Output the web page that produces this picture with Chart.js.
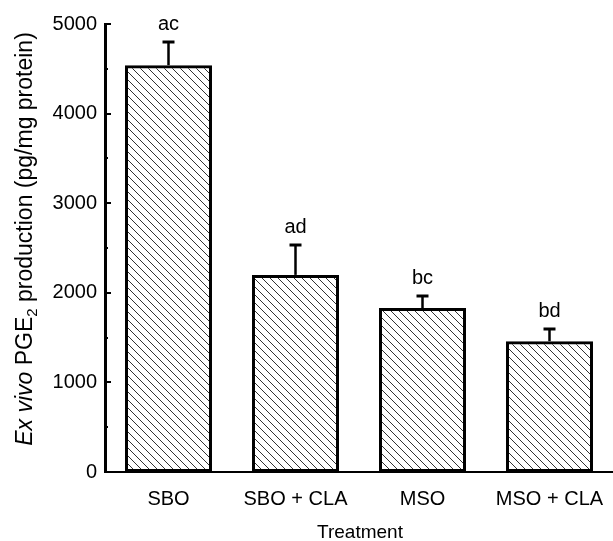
<!DOCTYPE html>
<html>
<head>
<meta charset="utf-8">
<script src="https://cdn.jsdelivr.net/npm/chart.js@4.4.1/dist/chart.umd.min.js"></script>
<style>
  html, body { margin: 0; padding: 0; background: #fff; }
  #wrap { width: 613px; height: 541px; }
</style>
</head>
<body>
<div id="wrap"><canvas id="bar-chart" width="613" height="541"></canvas></div>
<script>
// values
var treatments = ['SBO', 'SBO + CLA', 'MSO', 'MSO + CLA'];
var pge2 = [4540, 2200, 1830, 1460];
var pge2Sem = [260, 330, 130, 135];
var sigLetters = ['ac', 'ad', 'bc', 'bd'];
var yTicks = [0, 1000, 2000, 3000, 4000, 5000];
var yMinorTicks = [500, 1500, 2500, 3500, 4500];
var yTitleParts = ['Ex vivo', ' PGE', '2', ' production (pg/mg protein)'];
var xTitle = 'Treatment';

var FONT = '"Liberation Sans", Arial, Helvetica, sans-serif';

function makeHatch() {
    var c = document.createElement('canvas');
    c.width = 8;
    c.height = 8;
    var g = c.getContext('2d');
    g.strokeStyle = '#333';
    g.lineWidth = 1;
    g.beginPath();
    g.moveTo(-1, -1);
    g.lineTo(9, 9);
    g.stroke();
    return g.createPattern(c, 'repeat');
}

// inward ticks, error bars, letters and titles
var extras = {
    id: 'extras',
    afterDatasetsDraw: function(chart) {
        var ctx = chart.ctx;
        var y = chart.scales.y;
        var left = chart.chartArea.left;
        var meta = chart.getDatasetMeta(0);

        ctx.save();
        ctx.strokeStyle = '#000';
        ctx.fillStyle = '#000';
        ctx.lineWidth = 2;

        for (var i = 0; i < yTicks.length; i++) {
            var py = Math.round(y.getPixelForValue(yTicks[i]));
            ctx.beginPath();
            ctx.moveTo(left, py);
            ctx.lineTo(left + 6, py);
            ctx.stroke();
        }
        for (var i = 0; i < yMinorTicks.length; i++) {
            var py = Math.round(y.getPixelForValue(yMinorTicks[i]));
            ctx.fillRect(left + 1, py - 1, 2, 2);
        }

        ctx.font = '20px ' + FONT;
        ctx.textAlign = 'center';
        ctx.textBaseline = 'alphabetic';
        for (var i = 0; i < meta.data.length; i++) {
            var bar = meta.data[i];
            var top = Math.round(y.getPixelForValue(pge2[i] + pge2Sem[i]));
            ctx.lineWidth = 2.5;
            ctx.beginPath();
            ctx.moveTo(bar.x, bar.y);
            ctx.lineTo(bar.x, top);
            ctx.stroke();
            ctx.lineWidth = 3;
            ctx.beginPath();
            ctx.moveTo(bar.x - 6, top);
            ctx.lineTo(bar.x + 6, top);
            ctx.stroke();
            ctx.fillText(sigLetters[i], bar.x, top - 12);
        }

        // x title
        ctx.font = '19px ' + FONT;
        ctx.fillText(xTitle, (chart.chartArea.left + chart.chartArea.right) / 2 + 1, 538);

        // y title, mixed italic / subscript
        var fonts = ['italic 23px ' + FONT, '23px ' + FONT, '15px ' + FONT, '23px ' + FONT];
        var shift = [0, 0, 5, 0];
        var total = 0;
        var widths = [];
        for (var i = 0; i < yTitleParts.length; i++) {
            ctx.font = fonts[i];
            widths[i] = ctx.measureText(yTitleParts[i]).width;
            total += widths[i];
        }
        ctx.translate(32, 239);
        ctx.rotate(-Math.PI / 2);
        ctx.textAlign = 'left';
        var pos = -total / 2;
        for (var i = 0; i < yTitleParts.length; i++) {
            ctx.font = fonts[i];
            ctx.fillText(yTitleParts[i], pos, shift[i]);
            pos += widths[i];
        }
        ctx.restore();
    }
};

var ctx = document.getElementById('bar-chart');

var chart = new Chart(ctx, {
    type: 'bar',
    data: {
        labels: treatments,
        datasets: [
            {
                label: 'PGE2',
                data: pge2,
                backgroundColor: makeHatch(),
                borderColor: '#000',
                borderWidth: 3,
                borderSkipped: false,
                categoryPercentage: 1,
                barPercentage: 0.685
            }
        ]
    },
    options: {
        responsive: false,
        animation: false,
        devicePixelRatio: 1,
        layout: { padding: { top: 24, right: 0, left: 0, bottom: 0 } },
        plugins: {
            legend: { display: false },
            tooltip: { enabled: false }
        },
        scales: {
            x: {
                grid: { display: false },
                border: { display: true, color: '#000', width: 2 },
                ticks: {
                    color: '#000',
                    padding: 7,
                    font: { family: FONT, size: 20 }
                },
                afterFit: function(scale) { scale.height = 69; }
            },
            y: {
                min: 0,
                max: 5000,
                grid: { display: false, drawTicks: false },
                border: { display: true, color: '#000', width: 3 },
                ticks: {
                    stepSize: 1000,
                    color: '#000',
                    padding: 8,
                    font: { family: FONT, size: 20 },
                    callback: function(value) { return String(value); }
                },
                afterFit: function(scale) { scale.width = 105; }
            }
        }
    },
    plugins: [extras]
});
</script>
</body>
</html>
